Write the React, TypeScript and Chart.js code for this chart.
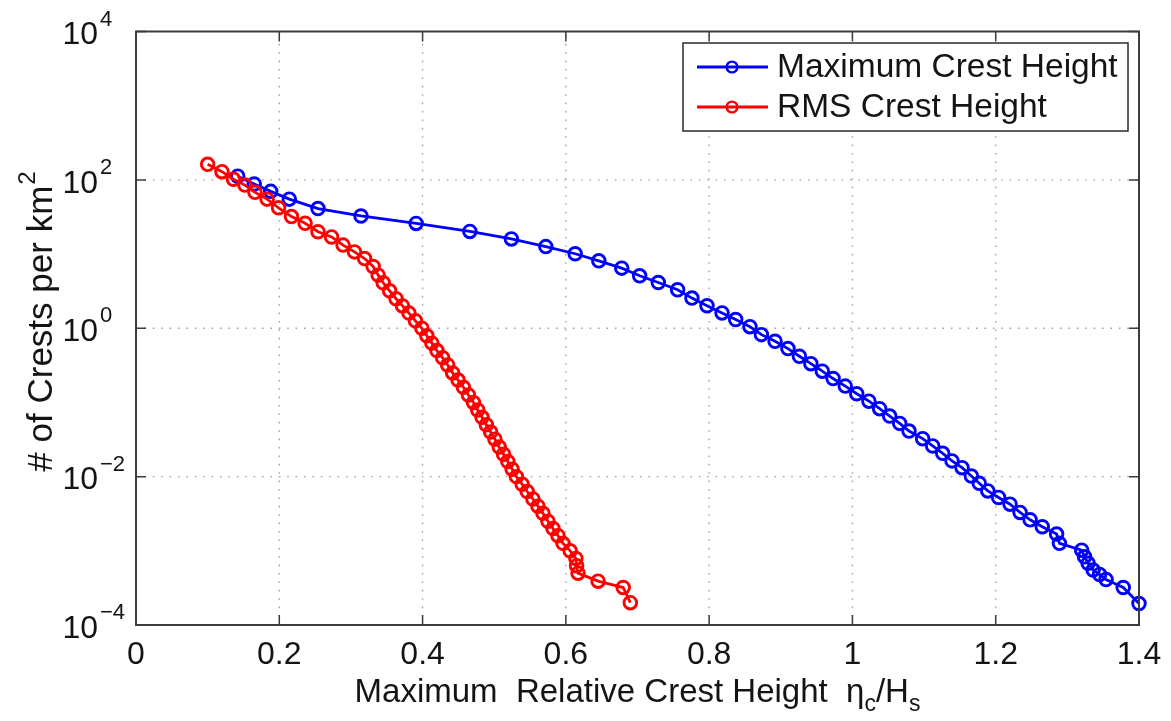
import React, { useEffect, useRef } from "react";
import { Chart, registerables } from "chart.js";

Chart.register(...registerables);

// ---------- data ----------
const maxCrestX = [
  0.142, 0.165, 0.188, 0.214, 0.254, 0.314, 0.391, 0.466, 0.524, 0.572,
  0.613, 0.646, 0.678, 0.703, 0.729, 0.756, 0.776, 0.797, 0.818, 0.837,
  0.857, 0.873, 0.892, 0.91, 0.926, 0.942, 0.958, 0.973, 0.99, 1.006,
  1.023, 1.038, 1.052, 1.066, 1.079, 1.098, 1.112, 1.126, 1.139, 1.153,
  1.166, 1.177, 1.189, 1.204, 1.22, 1.234, 1.248, 1.265, 1.285,
  1.289, 1.32, 1.324, 1.329, 1.336, 1.345, 1.354, 1.378, 1.4,
];
const maxCrestY = [
  112, 88, 70, 55, 41, 32.6, 25.9, 20.2, 16.0, 12.6,
  10.1, 8.1, 6.46, 5.09, 4.14, 3.3, 2.55, 2.01, 1.61, 1.31,
  1.05, 0.82, 0.667, 0.532, 0.419, 0.333, 0.264, 0.21, 0.166, 0.131,
  0.104, 0.0824, 0.0655, 0.0522, 0.0411, 0.0325, 0.0259, 0.0206, 0.0163, 0.0132,
  0.0102, 0.00814, 0.00642, 0.00524, 0.00425, 0.00329, 0.00262, 0.00211, 0.00168,
  0.00126, 0.00102, 0.00083, 0.00068, 0.00055, 0.00048, 0.00041, 0.00032, 0.000195,
];
const rmsCrestX = [
  0.1, 0.12, 0.136, 0.152, 0.166, 0.183, 0.199, 0.217, 0.236, 0.254,
  0.273, 0.289, 0.305, 0.319, 0.331, 0.338, 0.345,
  0.354, 0.363, 0.372, 0.381, 0.39, 0.399,
  0.406, 0.413, 0.42, 0.428, 0.435, 0.442, 0.4495, 0.457, 0.464,
  0.471, 0.477, 0.483, 0.489, 0.495, 0.501, 0.507, 0.513, 0.519, 0.525, 0.531,
  0.539, 0.546, 0.554, 0.561, 0.568, 0.575, 0.582, 0.589, 0.596,
  0.606, 0.614, 0.615, 0.617, 0.645, 0.68, 0.69,
];
const rmsCrestY = [
  162, 129, 102, 85, 68, 55, 42, 32, 26, 20,
  17, 13.2, 10.7, 8.7, 6.8, 5.2, 4.1,
  3.2, 2.5, 2.0, 1.6, 1.26, 1.0,
  0.79, 0.63, 0.5, 0.4, 0.32, 0.25, 0.2, 0.16, 0.126,
  0.1, 0.079, 0.063, 0.05, 0.04, 0.032, 0.025, 0.02, 0.016, 0.0126, 0.01,
  0.0079, 0.0063, 0.005, 0.004, 0.0032, 0.0025, 0.002, 0.0016, 0.00126,
  0.001, 0.00079, 0.00063, 0.0005, 0.00039, 0.00032, 0.0002,
];
const xTickValues = [0, 0.2, 0.4, 0.6, 0.8, 1, 1.2, 1.4];
const yTickExponents = [-4, -2, 0, 2, 4];
const seriesLabels = ["Maximum Crest Height", "RMS Crest Height"];
const seriesColors = ["#0000ff", "#ff0000"];

const FONT = '"Liberation Sans", Arial, Helvetica, sans-serif';
const TEXT = "#141414";
const AXIS = "#3c3c3c";

const framePlugin = {
  id: "matlabFrame",
  beforeDatasetsDraw(chart: any) {
    const { ctx, chartArea: a, scales } = chart;
    const xs = scales.x;
    const ys = scales.y;
    ctx.save();
    ctx.strokeStyle = "#a3a3a3";
    ctx.lineWidth = 1.4;
    ctx.setLineDash([1.6, 6.8]);
    xs.ticks.forEach((t: any) => {
      const px = xs.getPixelForValue(t.value);
      if (px <= a.left + 2 || px >= a.right - 2) return;
      ctx.beginPath();
      ctx.moveTo(px, a.bottom);
      ctx.lineTo(px, a.top);
      ctx.stroke();
    });
    ys.ticks.forEach((t: any) => {
      const py = ys.getPixelForValue(t.value);
      if (py <= a.top + 2 || py >= a.bottom - 2) return;
      ctx.beginPath();
      ctx.moveTo(a.left, py);
      ctx.lineTo(a.right, py);
      ctx.stroke();
    });
    ctx.restore();
  },
  afterDatasetsDraw(chart: any) {
    const { ctx, chartArea: a, scales } = chart;
    const xs = scales.x;
    const ys = scales.y;
    const tl = 10;
    ctx.save();
    ctx.setLineDash([]);
    // box
    ctx.strokeStyle = AXIS;
    ctx.lineWidth = 2;
    ctx.strokeRect(a.left, a.top, a.right - a.left, a.bottom - a.top);
    // inward ticks
    ctx.lineWidth = 1.5;
    xs.ticks.forEach((t: any) => {
      const px = xs.getPixelForValue(t.value);
      ctx.beginPath();
      ctx.moveTo(px, a.bottom);
      ctx.lineTo(px, a.bottom - tl);
      ctx.moveTo(px, a.top);
      ctx.lineTo(px, a.top + tl);
      ctx.stroke();
    });
    ys.ticks.forEach((t: any) => {
      const py = ys.getPixelForValue(t.value);
      ctx.beginPath();
      ctx.moveTo(a.left, py);
      ctx.lineTo(a.left + tl, py);
      ctx.moveTo(a.right, py);
      ctx.lineTo(a.right - tl, py);
      ctx.stroke();
    });

    // x tick labels
    ctx.fillStyle = TEXT;
    ctx.font = `32px ${FONT}`;
    ctx.textAlign = "center";
    ctx.textBaseline = "middle";
    xs.ticks.forEach((t: any) => {
      const px = xs.getPixelForValue(t.value);
      const lbl = String(Number(Number(t.value).toFixed(1)));
      ctx.fillText(lbl, px, a.bottom + 30);
    });

    // y tick labels: 10 with raised exponent
    ys.ticks.forEach((t: any) => {
      const py = ys.getPixelForValue(t.value);
      const e = Math.round(Math.log10(t.value));
      ctx.font = `32px ${FONT}`;
      ctx.textAlign = "right";
      ctx.textBaseline = "middle";
      ctx.fillText("10", 98, py + 4);
      ctx.font = `22px ${FONT}`;
      ctx.textAlign = "left";
      ctx.fillText(e < 0 ? "\u2212" + Math.abs(e) : String(e), 100, py - 12);
    });

    // x axis title with subscripts
    {
      const main = "Maximum  Relative Crest Height  \u03b7";
      const parts: [string, boolean][] = [
        [main, false],
        ["c", true],
        ["/H", false],
        ["s", true],
      ];
      const big = `33px ${FONT}`;
      const small = `23px ${FONT}`;
      let total = 0;
      const widths = parts.map(([s, sub]) => {
        ctx.font = sub ? small : big;
        const w = ctx.measureText(s).width;
        total += w;
        return w;
      });
      let cx = (a.left + a.right) / 2 - total / 2;
      const baseY = 702;
      ctx.textAlign = "left";
      ctx.textBaseline = "alphabetic";
      parts.forEach(([s, sub], i) => {
        ctx.font = sub ? small : big;
        ctx.fillText(s, cx, sub ? baseY + 9 : baseY);
        cx += widths[i];
      });
    }

    // y axis title (rotated) with superscript 2
    {
      ctx.save();
      ctx.translate(52, 322);
      ctx.rotate(-Math.PI / 2);
      const main = "# of Crests per km";
      ctx.font = `35px ${FONT}`;
      const w1 = ctx.measureText(main).width;
      ctx.font = `24px ${FONT}`;
      const w2 = ctx.measureText("2").width;
      const start = -(w1 + w2) / 2;
      ctx.textAlign = "left";
      ctx.textBaseline = "alphabetic";
      ctx.font = `35px ${FONT}`;
      ctx.fillText(main, start, 0);
      ctx.font = `24px ${FONT}`;
      ctx.fillText("2", start + w1 + 1, -17);
      ctx.restore();
    }

    // legend
    {
      const lx0 = 683, ly0 = 43, lx1 = 1128, ly1 = 131;
      ctx.fillStyle = "#ffffff";
      ctx.fillRect(lx0, ly0, lx1 - lx0, ly1 - ly0);
      ctx.strokeStyle = "#2a2a2a";
      ctx.lineWidth = 1.5;
      ctx.strokeRect(lx0, ly0, lx1 - lx0, ly1 - ly0);
      const rowsY = [67, 107];
      seriesLabels.forEach((lbl, i) => {
        const ry = rowsY[i];
        ctx.strokeStyle = seriesColors[i];
        ctx.lineWidth = 2.8;
        ctx.beginPath();
        ctx.moveTo(697, ry);
        ctx.lineTo(768, ry);
        ctx.stroke();
        ctx.lineWidth = 2.4;
        ctx.beginPath();
        ctx.arc(732, ry, 5.4, 0, Math.PI * 2);
        ctx.stroke();
        ctx.fillStyle = TEXT;
        ctx.font = `33.5px ${FONT}`;
        ctx.textAlign = "left";
        ctx.textBaseline = "middle";
        ctx.fillText(lbl, 777, ry + 1);
      });
    }
    ctx.restore();
  },
};

export default function App() {
  const canvasRef = useRef<HTMLCanvasElement | null>(null);

  useEffect(() => {
    document.body.style.margin = "0";
    const canvas = canvasRef.current;
    if (!canvas) return;
    const toPoints = (xs: number[], ys: number[]) =>
      xs.map((x, i) => ({ x, y: ys[i] }));

    const common = {
      backgroundColor: "transparent",
      borderWidth: 2.8,
      pointRadius: 6.3,
      pointBorderWidth: 2.9,
      pointBackgroundColor: "transparent",
      tension: 0,
      clip: false as any,
    };

    const chart = new Chart(canvas, {
      type: "line",
      data: {
        datasets: [
          {
            ...common,
            label: seriesLabels[1],
            data: toPoints(rmsCrestX, rmsCrestY),
            borderColor: seriesColors[1],
            pointBorderColor: seriesColors[1],
          },
          {
            ...common,
            label: seriesLabels[0],
            data: toPoints(maxCrestX, maxCrestY),
            borderColor: seriesColors[0],
            pointBorderColor: seriesColors[0],
          },
        ],
      },
      options: {
        animation: false,
        responsive: false,
        devicePixelRatio: 1,
        layout: { padding: { left: 0, right: 32, top: 31.5, bottom: 0 } },
        plugins: {
          legend: { display: false },
          tooltip: { enabled: false },
        },
        scales: {
          x: {
            type: "linear",
            min: 0,
            max: 1.4,
            afterBuildTicks: (scale: any) => {
              scale.ticks = xTickValues.map((v) => ({ value: v }));
            },
            afterFit: (scale: any) => {
              scale.height = 96;
            },
            ticks: { display: false },
            grid: { display: false },
            border: { display: false },
          },
          y: {
            type: "logarithmic",
            min: 1e-4,
            max: 1e4,
            afterBuildTicks: (scale: any) => {
              scale.ticks = yTickExponents.map((e) => ({ value: Math.pow(10, e) }));
            },
            afterFit: (scale: any) => {
              scale.width = 136;
            },
            ticks: { display: false },
            grid: { display: false },
            border: { display: false },
          },
        },
      },
      plugins: [framePlugin],
    });
    return () => chart.destroy();
  }, []);

  return (
    <div
      style={{
        position: "fixed",
        left: 0,
        top: 0,
        width: 1171,
        height: 721,
        background: "#ffffff",
      }}
    >
      <canvas ref={canvasRef} width={1171} height={721} style={{ width: 1171, height: 721 }} />
    </div>
  );
}
